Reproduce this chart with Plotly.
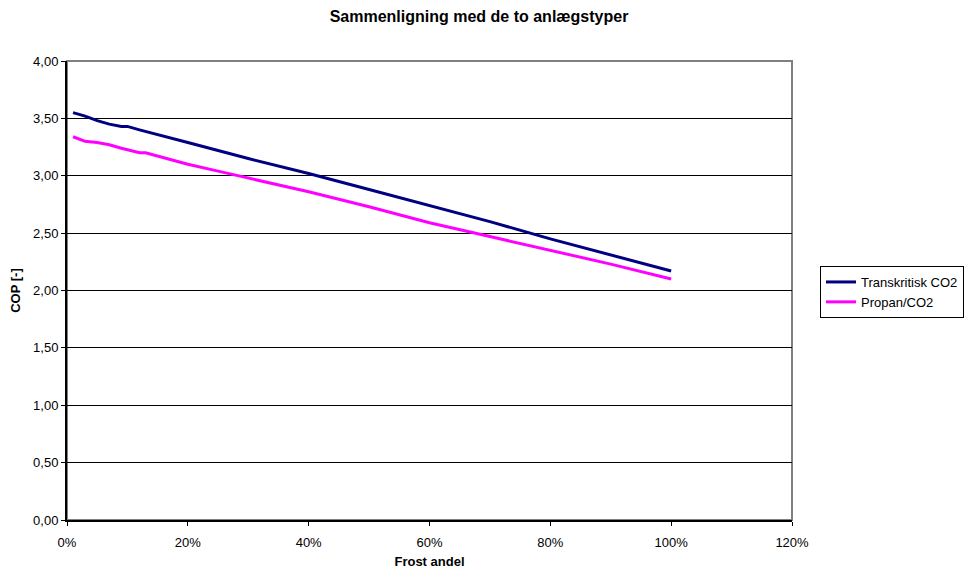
import plotly.graph_objects as go

frost_t = [1, 3, 5, 7, 9, 10, 12, 15, 20, 30, 40, 50, 60, 70, 80, 90, 100]
cop_t = [3.55, 3.52, 3.48, 3.45, 3.43, 3.43, 3.40, 3.36, 3.29, 3.15, 3.02, 2.88, 2.74, 2.60, 2.45, 2.31, 2.17]

frost_p = [1, 2, 3, 5, 7, 9, 11, 12, 13, 15, 18, 20, 25, 30, 40, 50, 60, 70, 80, 90, 100]
cop_p = [3.34, 3.32, 3.30, 3.29, 3.27, 3.24, 3.21, 3.20, 3.20, 3.17, 3.13, 3.10, 3.04, 2.98, 2.86, 2.73, 2.59, 2.47, 2.35, 2.23, 2.10]

font = "Liberation Sans, Arial, sans-serif"

fig = go.Figure()
fig.add_trace(go.Scatter(x=[v / 100 for v in frost_t], y=cop_t, mode="lines",
                         name="Transkritisk CO2", line=dict(color="#000080", width=3)))
fig.add_trace(go.Scatter(x=[v / 100 for v in frost_p], y=cop_p, mode="lines",
                         name="Propan/CO2", line=dict(color="#FF00FF", width=3)))

fig.add_shape(type="rect", xref="paper", yref="paper", x0=0, x1=1, y0=0, y1=1,
              line=dict(color="#808080", width=2), layer="below")

fig.update_layout(
    width=969, height=575,
    margin=dict(l=67, r=177, t=61, b=55, autoexpand=False),
    paper_bgcolor="white", plot_bgcolor="white",
    separators=",.",
    font=dict(family=font, size=13, color="black"),
    title=dict(text="<b>Sammenligning med de to anlægstyper</b>", x=479 / 969, xanchor="center",
               y=1 - 16 / 575, yanchor="middle", font=dict(size=16, family=font)),
    xaxis=dict(range=[0, 1.2], dtick=0.2, tickformat=".0%", showgrid=False, zeroline=False,
               showline=True, linecolor="black", linewidth=2, ticks="outside", ticklen=4,
               tickcolor="black", automargin=False, ticklabelstandoff=5,
               tickfont=dict(size=13),
               title=dict(text="<b>Frost andel</b>", font=dict(size=13), standoff=8)),
    yaxis=dict(range=[0, 4], dtick=0.5, tickformat=".2f", showgrid=True, gridcolor="black",
               gridwidth=1, zeroline=False, showline=True, linecolor="black", linewidth=2,
               ticks="outside", ticklen=4, tickcolor="black", automargin=False,
               tickfont=dict(size=13),
               title=dict(text="<b>COP [-]</b>", font=dict(size=13), standoff=10)),
    legend=dict(x=(820 - 67) / 725, xanchor="left", y=(520 - 292) / 459, yanchor="middle",
                bordercolor="black", borderwidth=1, font=dict(size=13), tracegroupgap=0,
                itemwidth=30),
)

fig.write_html("out.html", config={"displayModeBar": False},
               post_script="document.body.style.margin='0';document.body.style.overflow='hidden';")
